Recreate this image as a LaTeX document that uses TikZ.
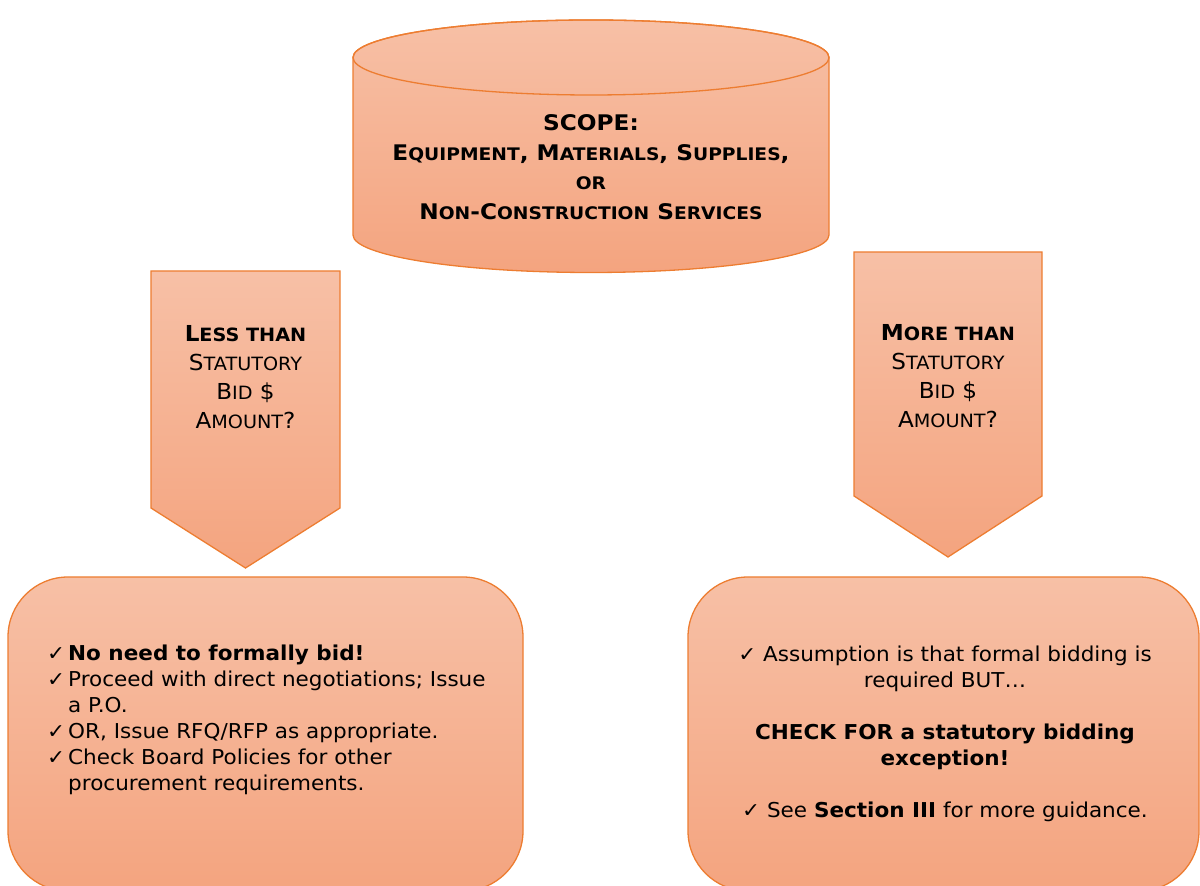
\documentclass[tikz,border=0pt]{standalone}
\usepackage{fontspec}
\setmainfont{DejaVu Sans}
\newfontfamily\bodyfont{DejaVu Sans}[FakeStretch=1.05]
\newfontfamily\cylfont{DejaVu Sans}[FakeStretch=1.08]
\definecolor{topc}{HTML}{F7C0A6}
\definecolor{botc}{HTML}{F4A47F}
\definecolor{edgec}{HTML}{ED7D31}
\newcommand\smc[2]{{\fontsize{#1}{#1}\selectfont #2}}
\newcommand\ck{\makebox[21pt][l]{✓}}
\newcommand\ind{\hspace*{21pt}}
\tikzset{
  shapefill/.style={top color=topc, bottom color=botc, draw=edgec, line width=1.3pt},
  bodytext/.style={inner sep=0pt, font=\bodyfont\fontsize{20.5pt}{26pt}\selectfont},
  arrowtext/.style={inner sep=0pt, align=center, font=\bodyfont\fontsize{22pt}{29pt}\selectfont},
  cyltext/.style={inner sep=0pt, align=center, font=\cylfont\bfseries\fontsize{21.5pt}{29.5pt}\selectfont}
}
\begin{document}
\begin{tikzpicture}[x=1pt,y=1pt]
\useasboundingbox (0,0) rectangle (1200,886);
% cylinder
\path[shapefill] (353,828.5) arc[start angle=180,end angle=0,x radius=238pt,y radius=37.5pt]
  -- (829,651) arc[start angle=0,end angle=-180,x radius=238pt,y radius=37.5pt] -- cycle;
\draw[edgec, line width=1.3pt] (591,828.5) ellipse [x radius=238pt, y radius=37.5pt];
\node[cyltext] (scope) at (591,719) {SCOPE:\\
E\smc{17.3pt}{QUIPMENT}, M\smc{17.3pt}{ATERIALS}, S\smc{17.3pt}{UPPLIES},\\
\smc{17.3pt}{OR}\\
N\smc{17.3pt}{ON}-C\smc{17.3pt}{ONSTRUCTION} S\smc{17.3pt}{ERVICES}};
% left arrow
\path[shapefill] (151,615) -- (340,615) -- (340,378) -- (245.5,318) -- (151,378) -- cycle;
\node[arrowtext] (less) at (245.5,509) {\textbf{L\smc{18.3pt}{ESS THAN}}\\
S\smc{18.3pt}{TATUTORY}\\
B\smc{18.3pt}{ID} \$\\
A\smc{18.3pt}{MOUNT}?};
% right arrow
\path[shapefill] (854,634) -- (1042,634) -- (1042,390) -- (948,329) -- (854,390) -- cycle;
\node[arrowtext] (more) at (948,510) {\textbf{M\smc{18.3pt}{ORE THAN}}\\
S\smc{18.3pt}{TATUTORY}\\
B\smc{18.3pt}{ID} \$\\
A\smc{18.3pt}{MOUNT}?};
% left box
\path[shapefill, rounded corners=60pt] (8,-5) rectangle (523,309);
\node[bodytext, align=left, anchor=north west] (leftlist) at (47,241) {\ck\textbf{No need to formally bid!}\\
\ck Proceed with direct negotiations; Issue\\
\ind a P.O.\\
\ck OR, Issue RFQ/RFP as appropriate.\\
\ck Check Board Policies for other\\
\ind procurement requirements.};
% right box
\path[shapefill, rounded corners=60pt] (688,-5) rectangle (1199,309);
\node[bodytext, align=center] (rightlist) at (945,152) {✓ Assumption is that formal bidding is\\
required BUT…\\[26pt]
\textbf{CHECK FOR a statutory bidding}\\
\textbf{exception!}\\[26pt]
✓ See \textbf{Section III} for more guidance.};
\end{tikzpicture}
\end{document}
